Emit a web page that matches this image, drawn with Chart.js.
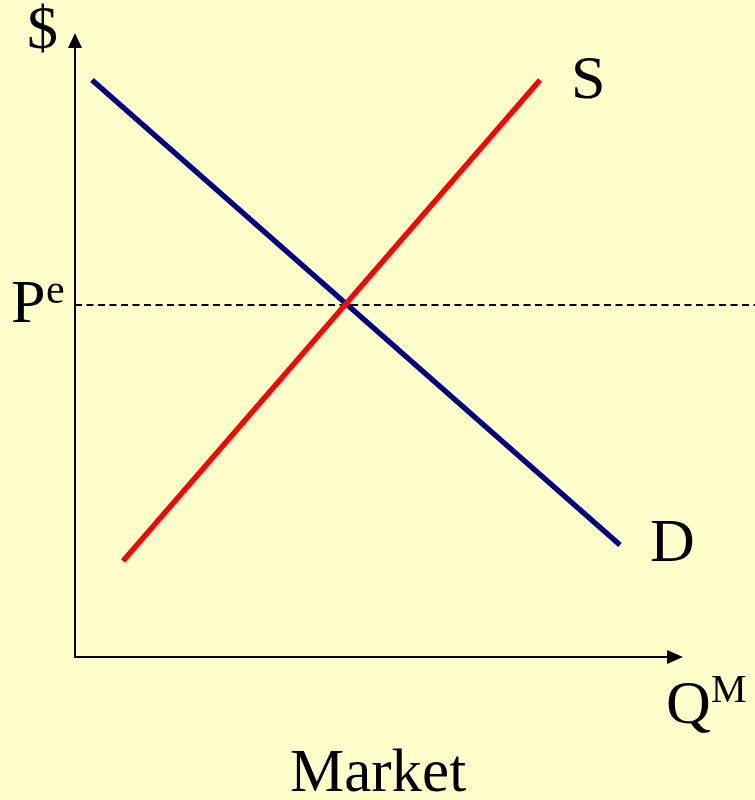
<!DOCTYPE html>
<html>
<head>
<meta charset="utf-8">
<script src="https://cdn.jsdelivr.net/npm/chart.js@4/dist/chart.umd.min.js"></script>
<style>
  html, body { margin: 0; padding: 0; background: #FFFFCC; }
  #wrap { width: 755px; height: 800px; }
</style>
</head>
<body>
<div id="wrap"><canvas id="c" width="755" height="800"></canvas></div>
<script>
// Data (quantity / price in chart units)
const demandQ = [17, 545];
const demandP = [577, 112];
const supplyQ = [48, 465];
const supplyP = [96, 577];
const equilibriumP = 352;
const dashQ = [0, 680];
const axisMaxQ = 608;
const axisMaxP = 624;
const labels = { price: "$", supply: "S", demand: "D", eqPrice: "P", eqSup: "e", qty: "Q", qtySup: "M", title: "Market" };

const toPts = (xs, ys) => xs.map((x, i) => ({ x: x, y: ys[i] }));

const serif = '"Liberation Serif", "Times New Roman", serif';

const decor = {
  id: 'decor',
  beforeDraw(chart) {
    const ctx = chart.ctx;
    ctx.save();
    ctx.fillStyle = '#FFFFCC';
    ctx.fillRect(0, 0, chart.width, chart.height);
    ctx.restore();
  },
  afterDatasetsDraw(chart) {
    const ctx = chart.ctx;
    const xs = chart.scales.x, ys = chart.scales.y;
    const ox = xs.getPixelForValue(0), oy = ys.getPixelForValue(0);
    const ty = ys.getPixelForValue(axisMaxP), tx = xs.getPixelForValue(axisMaxQ);
    ctx.save();
    ctx.strokeStyle = '#000';
    ctx.fillStyle = '#000';
    ctx.lineWidth = 2;
    ctx.beginPath();
    ctx.moveTo(ox, oy); ctx.lineTo(ox, ty + 14);
    ctx.moveTo(ox - 1, oy); ctx.lineTo(tx - 14, oy);
    ctx.stroke();
    // arrowheads
    ctx.beginPath();
    ctx.moveTo(ox, ty); ctx.lineTo(ox - 7, ty + 15); ctx.lineTo(ox + 7, ty + 15); ctx.closePath();
    ctx.fill();
    ctx.beginPath();
    ctx.moveTo(tx, oy); ctx.lineTo(tx - 16, oy - 7); ctx.lineTo(tx - 16, oy + 7); ctx.closePath();
    ctx.fill();
    // text labels
    ctx.textBaseline = 'alphabetic';
    ctx.textAlign = 'left';
    ctx.font = '62px ' + serif;
    ctx.fillText(labels.price, 27, 48);
    ctx.fillText(labels.supply, 571, 98);
    ctx.fillText(labels.demand, 650, 561);
    ctx.fillText(labels.eqPrice, 11, 322);
    ctx.fillText(labels.qty, 666, 723);
    ctx.font = '42px ' + serif;
    ctx.fillText(labels.eqSup, 46, 303);
    ctx.font = '40px ' + serif;
    ctx.fillText(labels.qtySup, 711, 702);
    ctx.font = '61px ' + serif;
    ctx.textAlign = 'center';
    ctx.fillText(labels.title, 378, 791);
    ctx.restore();
  }
};

new Chart(document.getElementById('c'), {
  type: 'scatter',
  data: {
    datasets: [
      { label: 'Pe', data: toPts(dashQ, [equilibriumP, equilibriumP]), showLine: true, borderColor: '#000', borderWidth: 2, borderDash: [7, 4.5], pointRadius: 0, order: 3 },
      { label: 'D', data: toPts(demandQ, demandP), showLine: true, borderColor: '#000080', borderWidth: 5.5, pointRadius: 0, order: 2 },
      { label: 'S', data: toPts(supplyQ, supplyP), showLine: true, borderColor: '#FF0000', borderWidth: 5.5, pointRadius: 0, order: 1 }
    ]
  },
  options: {
    responsive: false,
    animation: false,
    devicePixelRatio: 1,
    layout: { padding: { left: 75, right: 0, top: 0, bottom: 143 } },
    plugins: { legend: { display: false }, tooltip: { enabled: false } },
    scales: {
      x: { type: 'linear', min: 0, max: 680, display: false },
      y: { type: 'linear', min: 0, max: 657, display: false }
    },
    elements: { line: { borderCapStyle: 'butt' } }
  },
  plugins: [decor]
});
</script>
</body>
</html>
